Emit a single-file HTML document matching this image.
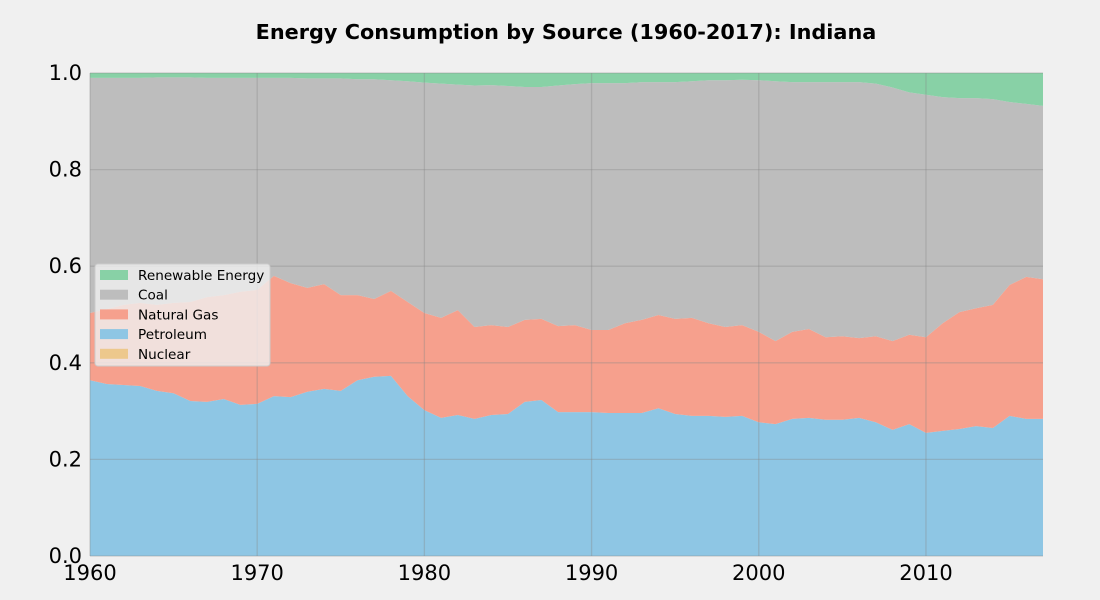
<!DOCTYPE html>
<html><head><meta charset="utf-8"><style>
body{margin:0;background:#f0f0f0;}
svg{display:block;font-family:"DejaVu Sans","Liberation Sans",sans-serif;}
</style></head><body>
<svg id="chart" width="1100" height="600">
<rect width="1100" height="600" fill="#f0f0f0"/>
<text x="566" y="39" text-anchor="middle" font-size="20.8" font-weight="bold" fill="#000">Energy Consumption by Source (1960-2017): Indiana</text>
<g id="areas"></g><g id="grid"></g><g id="ticks"></g><g id="legend"></g>
</svg>
<script>
const years = [];
for (let y = 1960; y <= 2017; y++) years.push(y);
const nuclear = new Array(58).fill(0);
const petroleum = [.364,.356,.354,.352,.342,.337,.321,.319,.325,.313,
.315,.331,.329,.340,.346,.342,.364,.371,.373,.331,
.302,.286,.292,.284,.292,.294,.319,.323,.298,.298,
.298,.296,.296,.296,.306,.294,.290,.290,.288,.290,
.277,.273,.284,.286,.282,.282,.286,.277,.261,.273,
.255,.259,.263,.269,.265,.290,.284,.284];
const naturalGas = [.139,.155,.166,.172,.178,.187,.205,.217,.215,.234,
.236,.249,.236,.215,.217,.198,.176,.161,.176,.195,
.201,.207,.217,.190,.186,.180,.170,.168,.178,.180,
.170,.172,.186,.193,.193,.197,.203,.192,.186,.188,
.187,.172,.180,.184,.171,.173,.165,.178,.184,.185,
.198,.223,.242,.244,.255,.271,.294,.289];
const coal = [.487,.479,.470,.466,.471,.467,.465,.454,.450,.443,
.439,.410,.425,.434,.426,.449,.447,.455,.436,.457,
.477,.485,.467,.500,.497,.499,.482,.480,.498,.499,
.511,.511,.497,.492,.482,.490,.490,.503,.511,.508,
.521,.538,.517,.511,.528,.526,.530,.523,.525,.502,
.502,.468,.443,.435,.426,.379,.358,.359];
const renewable = [.010,.010,.010,.010,.009,.009,.009,.010,.010,.010,
.010,.010,.010,.011,.011,.011,.013,.013,.015,.017,
.020,.022,.024,.026,.025,.027,.029,.029,.026,.023,
.021,.021,.021,.019,.019,.019,.017,.015,.015,.014,
.015,.017,.019,.019,.019,.019,.019,.022,.030,.040,
.045,.050,.052,.052,.054,.060,.064,.068];
const xTicks = [1960,1970,1980,1990,2000,2010];
const yTicks = [0,0.2,0.4,0.6,0.8,1.0];
const yTickLabels = ["0.0","0.2","0.4","0.6","0.8","1.0"];
const seriesNames = ["Nuclear","Petroleum","Natural Gas","Coal","Renewable Energy"];

const NS="http://www.w3.org/2000/svg";
const x0=90,x1=1043,yb=556,yt=73;
const xs=v=>x0+(v-1960)/(2017-1960)*(x1-x0);
const ys=v=>yb-v*(yb-yt);
const series=[nuclear,petroleum,naturalGas,coal,renewable];
const colors=["#edc88c","#8ec6e4","#f6a08d","#bdbdbd","#88d1a6"];
const ids=["nuclear-area","petroleum-area","natural-gas-area","coal-area","renewable-area"];
const totals=years.map((_,i)=>series.reduce((s,a)=>s+a[i],0));
let base=years.map(()=>0);
const ga=document.getElementById('areas');
series.forEach((s,k)=>{
  const top=base.map((b,i)=>b+s[i]/totals[i]);
  let d="M"+years.map((y,i)=>xs(y)+","+ys(top[i])).join("L");
  for(let i=years.length-1;i>=0;i--) d+="L"+xs(years[i])+","+ys(base[i]);
  d+="Z";
  const p=document.createElementNS(NS,'path');
  p.setAttribute('d',d);p.setAttribute('fill',colors[k]);
  
  
  ga.appendChild(p);
  base=top;
});
const gg=document.getElementById('grid'),gt=document.getElementById('ticks');
xTicks.forEach(t=>{
  const l=document.createElementNS(NS,'line');
  l.setAttribute('x1',xs(t));l.setAttribute('x2',xs(t));l.setAttribute('y1',yt);l.setAttribute('y2',yb);
  l.setAttribute('stroke','#888');l.setAttribute('stroke-opacity','0.35');l.setAttribute('stroke-width','1.3');
  
  
  gg.appendChild(l);
  const tx=document.createElementNS(NS,'text');
  tx.setAttribute('x',xs(t));tx.setAttribute('y',580);tx.setAttribute('text-anchor','middle');tx.setAttribute('font-size','21');
  tx.textContent=t;
  
  
  gt.appendChild(tx);
});
yTicks.forEach((t,i)=>{
  const l=document.createElementNS(NS,'line');
  l.setAttribute('x1',x0);l.setAttribute('x2',x1);l.setAttribute('y1',ys(t));l.setAttribute('y2',ys(t));
  l.setAttribute('stroke','#888');l.setAttribute('stroke-opacity','0.35');l.setAttribute('stroke-width','1.3');
  
  
  gg.appendChild(l);
  const tx=document.createElementNS(NS,'text');
  tx.setAttribute('x',82);tx.setAttribute('y',ys(t)+7);tx.setAttribute('text-anchor','end');tx.setAttribute('font-size','21');
  tx.textContent=yTickLabels[i];
  
  
  gt.appendChild(tx);
});
const gl=document.getElementById('legend');
const box=document.createElementNS(NS,'rect');
box.setAttribute('x',95);box.setAttribute('y',264);box.setAttribute('width',175);box.setAttribute('height',102);
box.setAttribute('rx',3);box.setAttribute('fill','#f0f0f0');box.setAttribute('fill-opacity','0.8');box.setAttribute('stroke','#ccc');


gl.appendChild(box);
for(let k=4;k>=0;k--){
  const row=4-k, yy=275+row*19.7;
  const r=document.createElementNS(NS,'rect');
  r.setAttribute('x',100);r.setAttribute('y',yy-5);r.setAttribute('width',28);r.setAttribute('height',10);r.setAttribute('fill',colors[k]);
  
  
  gl.appendChild(r);
  const tx=document.createElementNS(NS,'text');
  tx.setAttribute('x',138);tx.setAttribute('y',yy+5);tx.setAttribute('font-size','13.6');
  tx.textContent=seriesNames[k];
  
  
  gl.appendChild(tx);
}
</script>
</body></html>
